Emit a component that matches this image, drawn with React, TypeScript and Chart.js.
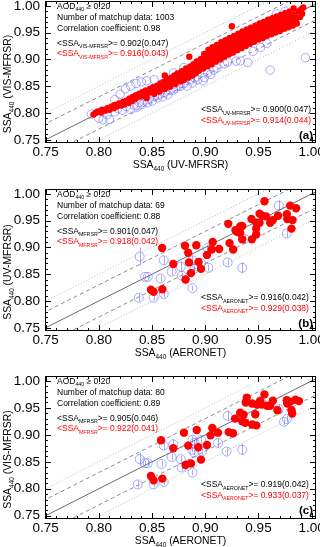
import React, { useEffect, useRef } from "react";
import { Chart, registerables } from "chart.js";
Chart.register(...registerables);

const FONT = "'Liberation Sans', Arial, Helvetica, sans-serif";
const X_MIN = 0.7495, X_MAX = 1.004, Y_MIN = 0.744, Y_MAX = 1.009;
const tickValues = [0.75, 0.8, 0.85, 0.9, 0.95, 1.0];
const refOffsets = [0.05, -0.05, 0.03, -0.03, 0];

// Panel (a): UV-MFRSR (x) vs VIS-MFRSR (y)
const redA: number[][] = [
  [0.795,0.797],[0.797,0.800],[0.799,0.803],[0.802,0.801],[0.803,0.806],[0.806,0.804],[0.808,0.809],[0.810,0.806],[0.812,0.812],[0.814,0.809],
  [0.815,0.815],[0.817,0.812],[0.819,0.818],[0.821,0.814],[0.823,0.821],[0.824,0.816],[0.826,0.823],[0.828,0.819],[0.829,0.827],[0.831,0.822],
  [0.832,0.830],[0.834,0.826],[0.835,0.833],[0.836,0.829],[0.838,0.836],[0.840,0.831],[0.841,0.839],[0.843,0.834],[0.844,0.842],[0.845,0.828],
  [0.846,0.837],[0.848,0.845],[0.849,0.840],[0.851,0.848],[0.852,0.836],[0.853,0.843],[0.855,0.851],[0.856,0.846],[0.857,0.840],[0.858,0.855],
  [0.860,0.849],[0.861,0.858],[0.862,0.845],[0.863,0.852],[0.864,0.862],[0.866,0.856],[0.862,0.870],[0.867,0.849],[0.868,0.866],[0.869,0.859],
  [0.871,0.870],[0.872,0.854],[0.873,0.863],[0.874,0.874],[0.876,0.866],[0.877,0.859],[0.878,0.878],[0.879,0.870],[0.880,0.862],[0.882,0.883],
  [0.883,0.874],[0.884,0.866],[0.885,0.905],[0.886,0.887],[0.887,0.878],[0.888,0.870],[0.889,0.891],[0.890,0.882],[0.891,0.874],[0.892,0.896],
  [0.893,0.887],[0.894,0.879],[0.896,0.901],[0.897,0.892],[0.898,0.883],[0.899,0.910],[0.900,0.905],[0.901,0.896],[0.902,0.887],[0.903,0.918],
  [0.904,0.910],[0.905,0.900],[0.906,0.891],[0.907,0.923],[0.908,0.914],[0.909,0.904],[0.910,0.896],[0.911,0.927],[0.912,0.918],[0.913,0.909],
  [0.914,0.900],[0.915,0.932],[0.916,0.923],[0.917,0.913],[0.918,0.905],[0.919,0.936],[0.920,0.927],[0.921,0.917],[0.922,0.909],[0.923,0.940],
  [0.924,0.931],[0.925,0.922],[0.925,0.962],[0.926,0.913],[0.927,0.944],[0.928,0.935],[0.929,0.926],[0.930,0.917],[0.931,0.948],[0.932,0.939],
  [0.933,0.930],[0.934,0.921],[0.935,0.952],[0.936,0.943],[0.937,0.934],[0.938,0.925],[0.939,0.956],[0.940,0.947],[0.941,0.938],[0.942,0.929],
  [0.943,0.959],[0.944,0.951],[0.945,0.942],[0.946,0.933],[0.947,0.963],[0.948,0.955],[0.949,0.946],[0.950,0.937],[0.951,0.967],[0.952,0.958],
  [0.953,0.949],[0.954,0.940],[0.955,0.970],[0.956,0.962],[0.957,0.953],[0.958,0.944],[0.959,0.974],[0.960,0.965],[0.961,0.956],[0.962,0.947],
  [0.963,0.977],[0.964,0.968],[0.965,0.959],[0.966,0.950],[0.967,0.980],[0.968,0.971],[0.969,0.962],[0.970,0.953],[0.971,0.983],[0.972,0.974],
  [0.973,0.965],[0.974,0.957],[0.975,0.986],[0.976,0.977],[0.977,0.968],[0.978,0.960],[0.979,0.989],[0.980,0.980],[0.981,0.971],[0.982,0.963],
  [0.983,0.995],[0.984,0.984],[0.985,0.975],[0.986,0.967],[0.988,0.990],[0.989,0.979],[0.990,0.993],[0.991,0.985],[0.992,0.997]
];
const blueA: number[][] = [
  [0.793,0.798],[0.800,0.790],[0.804,0.787],[0.810,0.788],[0.808,0.797],[0.815,0.802],[0.818,0.808],[0.822,0.805],[0.826,0.812],[0.830,0.806],
  [0.833,0.815],[0.836,0.811],[0.838,0.820],[0.841,0.816],[0.843,0.824],[0.846,0.819],[0.848,0.828],[0.850,0.822],[0.852,0.832],[0.855,0.828],
  [0.857,0.835],[0.860,0.830],[0.862,0.838],[0.865,0.834],[0.867,0.842],[0.870,0.843],[0.872,0.846],[0.875,0.850],[0.877,0.850],[0.880,0.855],
  [0.883,0.850],[0.886,0.862],[0.888,0.856],[0.890,0.865],[0.893,0.862],[0.898,0.860],[0.899,0.866],[0.902,0.875],[0.905,0.872],[0.908,0.880],
  [0.911,0.884],[0.914,0.903],[0.918,0.892],[0.921,0.895],[0.925,0.915],[0.929,0.897],[0.933,0.897],[0.940,0.894],[0.961,0.880],[0.994,0.903],
  [0.945,0.915],[0.952,0.922],[0.958,0.930],[0.967,0.985],[0.975,0.990],[0.835,0.855],[0.840,0.858],[0.845,0.860],[0.830,0.850],[0.852,0.862],
  [0.825,0.845],[0.820,0.835],[0.870,0.875],[0.880,0.885],[0.895,0.895],[0.910,0.915],[0.860,0.855],[0.815,0.825]
];

// Panel (b): AERONET (x) vs UV-MFRSR (y)
const redB: number[][] = [
  [0.9556,0.986],[0.9797,0.978],[0.9853,0.973],[0.951,0.963],[0.9534,0.959],[0.957,0.958],[0.9434,0.953],[0.948,0.946],[0.951,0.946],[0.961,0.946],
  [0.9635,0.951],[0.9684,0.959],[0.9766,0.962],[0.977,0.953],[0.982,0.951],[0.981,0.935],[0.9216,0.944],[0.9284,0.932],[0.9297,0.929],[0.9328,0.939],
  [0.9347,0.940],[0.9328,0.927],[0.9347,0.915],[0.9438,0.915],[0.9478,0.935],[0.9478,0.924],[0.9228,0.908],[0.9262,0.896],[0.913,0.897],[0.907,0.910],
  [0.906,0.896],[0.9016,0.886],[0.8916,0.904],[0.881,0.903],[0.884,0.890],[0.8847,0.872],[0.8937,0.873],[0.896,0.860],[0.8866,0.852],[0.8815,0.840],
  [0.8595,0.899],[0.849,0.821],[0.8515,0.817],[0.8597,0.822],[0.870,0.869]
];
const blueB: number[][] = [
  [0.8384,0.883],[0.861,0.876],[0.8684,0.855],[0.877,0.864],[0.878,0.847],[0.888,0.876],[0.8897,0.860],[0.896,0.871],[0.903,0.862],[0.921,0.872],
  [0.9347,0.862],[0.937,0.916],[0.969,0.978],[0.9766,0.926],[0.846,0.845],[0.8435,0.845],[0.858,0.842],[0.888,0.824],[0.8375,0.806],[0.8515,0.806],
  [0.861,0.813],[0.8925,0.865],[0.902,0.899]
];
const blueBErr = [
  0.017,0.008,0.006,0.010,0.006,0.008,0.006,0.006,0.006,0.006,
  0.010,0.008,0.010,0.008,0.004,0.004,0.006,0.005,0.007,0.005,
  0.006,0.005,0.006
];

// Panel (c): AERONET (x) vs VIS-MFRSR (y)
const redC: number[][] = [
  [0.9556,0.975],[0.939,0.969],[0.938,0.960],[0.944,0.958],[0.9485,0.956],[0.9516,0.9625],[0.953,0.956],[0.958,0.954],[0.961,0.954],[0.9635,0.963],
  [0.9766,0.964],[0.9797,0.961],[0.9847,0.965],[0.988,0.9625],[0.977,0.958],[0.9678,0.9456],[0.981,0.9456],[0.9816,0.9394],[0.9328,0.941],[0.936,0.9375],
  [0.9347,0.925],[0.9375,0.9225],[0.947,0.938],[0.928,0.930],[0.944,0.919],[0.948,0.9175],[0.922,0.905],[0.926,0.903],[0.912,0.904],[0.9066,0.9126],
  [0.905,0.899],[0.9016,0.881],[0.892,0.909],[0.8934,0.877],[0.880,0.904],[0.884,0.880],[0.896,0.854],[0.8866,0.847],[0.8815,0.844],[0.870,0.875],
  [0.8585,0.890],[0.849,0.8237],[0.8515,0.8156],[0.8597,0.8188]
];
const blueC: number[][] = [
  [0.8384,0.855],[0.846,0.8475],[0.8435,0.8475],[0.861,0.880],[0.8684,0.8587],[0.870,0.8825],[0.877,0.855],[0.878,0.8394],[0.888,0.8906],[0.8897,0.885],
  [0.896,0.8906],[0.8875,0.8725],[0.8897,0.867],[0.897,0.869],[0.912,0.885],[0.920,0.869],[0.921,0.935],[0.9347,0.8725],[0.9366,0.927],[0.969,0.9475],
  [0.974,0.924],[0.9766,0.929],[0.888,0.830],[0.8365,0.808],[0.8515,0.808],[0.861,0.8124],[0.859,0.846],[0.952,0.963]
];
const blueCErr = [
  0.012,0.005,0.004,0.008,0.006,0.008,0.006,0.006,0.006,0.006,
  0.006,0.005,0.005,0.006,0.008,0.006,0.010,0.010,0.008,0.008,
  0.006,0.006,0.005,0.006,0.005,0.005,0.005,0.008
];

type Seg = { t: string; sub?: boolean };
type Line = { segs: Seg[]; color: string };

const K = "#000000";
const R = "#ff0000";
const ssaLine = (inst: string, rest: string, color: string): Line => ({
  segs: [{ t: "<SSA" }, { t: inst, sub: true }, { t: rest }], color,
});
const headLines = (n: string, r: string): Line[] => [
  { segs: [{ t: "AOD" }, { t: "440", sub: true }, { t: " \u2265 0.20" }], color: K },
  { segs: [{ t: "Number of matchup data: " + n }], color: K },
  { segs: [{ t: "Correlation coefficient: " + r }], color: K },
];

const panels = [
  {
    top: 0, height: 183, frameTop: 1, frameBottom: 143, label: "(a)",
    red: redA, blue: blueA, blueErr: null as number[] | null, redR: 3.2, blueR: 4.2,
    xTitle: " (UV-MFRSR)", yTitle: " (VIS-MFRSR)",
    left: [...headLines("1003", "0.98"), ssaLine("VIS-MFRSR", ">= 0.902(0.047)", K), ssaLine("VIS-MFRSR", ">= 0.916(0.043)", R)],
    right: [ssaLine("UV-MFRSR", ">= 0.900(0.047)", K), ssaLine("UV-MFRSR", ">= 0.914(0.044)", R)],
  },
  {
    top: 183, height: 187, frameTop: 6, frameBottom: 148, label: "(b)",
    red: redB, blue: blueB, blueErr: blueBErr, redR: 4.2, blueR: 4.5,
    xTitle: " (AERONET)", yTitle: " (UV-MFRSR)",
    left: [...headLines("69", "0.88"), ssaLine("MFRSR", ">= 0.901(0.047)", K), ssaLine("MFRSR", ">= 0.918(0.042)", R)],
    right: [ssaLine("AERONET", ">= 0.916(0.042)", K), ssaLine("AERONET", ">= 0.929(0.038)", R)],
  },
  {
    top: 370, height: 177, frameTop: 6, frameBottom: 149, label: "(c)",
    red: redC, blue: blueC, blueErr: blueCErr, redR: 4.2, blueR: 4.5,
    xTitle: " (AERONET)", yTitle: " (VIS-MFRSR)",
    left: [...headLines("80", "0.89"), ssaLine("MFRSR", ">= 0.905(0.046)", K), ssaLine("MFRSR", ">= 0.922(0.041)", R)],
    right: [ssaLine("AERONET", ">= 0.919(0.042)", K), ssaLine("AERONET", ">= 0.933(0.037)", R)],
  },
];

const LEFT_ROWS = [5, 16.3, 27.3, 41.5, 52.2];
const RIGHT_ROWS = [108.3, 118.7];

function drawRich(ctx: CanvasRenderingContext2D, segs: Seg[], x: number, yc: number, align: string, size: number, color: string, bold = false) {
  const sub = size * 0.62;
  const w = (s: Seg) => {
    ctx.font = `${bold ? "bold " : ""}${s.sub ? sub : size}px ${FONT}`;
    return ctx.measureText(s.t).width;
  };
  const total = segs.reduce((a, s) => a + w(s), 0);
  let cx = align === "left" ? x : align === "center" ? x - total / 2 : x - total;
  const base = yc + size * 0.36;
  ctx.fillStyle = color;
  ctx.textAlign = "left";
  ctx.textBaseline = "alphabetic";
  for (const s of segs) {
    const ww = w(s);
    ctx.fillText(s.t, cx, s.sub ? base + size * 0.27 : base);
    cx += ww;
  }
}

function Panel({ p }: { p: (typeof panels)[number] }) {
  const ref = useRef<HTMLCanvasElement>(null);
  useEffect(() => {
    const lineStyles: Record<string, { c: string; d: number[] }> = {
      "0": { c: "#6a6a6a", d: [] },
      "0.03": { c: "#8c8c8c", d: [4, 3] },
      "0.05": { c: "#b4b4b4", d: [1, 2] },
    };
    const refSets = refOffsets.map((o) => {
      const st = lineStyles[String(Math.abs(o))];
      return {
        data: [{ x: 0.7, y: 0.7 + o }, { x: 1.05, y: 1.05 + o }],
        showLine: true, pointRadius: 0, borderColor: st.c, borderDash: st.d, borderWidth: 1, order: 3,
      };
    });
    const blueColor = "rgba(110,110,255,0.6)";
    const framePlugin = {
      id: "frame",
      beforeDatasetsDraw(chart: any) {
        if (!p.blueErr) return;
        const { ctx, scales } = chart;
        ctx.save();
        ctx.strokeStyle = blueColor;
        ctx.lineWidth = 1;
        p.blue.forEach((pt, i) => {
          const e = p.blueErr![i];
          const x = Math.round(scales.x.getPixelForValue(pt[0])) + 0.5;
          ctx.beginPath();
          ctx.moveTo(x, scales.y.getPixelForValue(pt[1] - e));
          ctx.lineTo(x, scales.y.getPixelForValue(pt[1] + e));
          ctx.stroke();
        });
        ctx.restore();
      },
      afterDraw(chart: any) {
        const { ctx, chartArea: a, scales } = chart;
        ctx.save();
        ctx.strokeStyle = "#000";
        ctx.lineWidth = 1;
        ctx.strokeRect(a.left + 0.5, a.top + 0.5, a.right - a.left - 1, a.bottom - a.top - 1);
        ctx.beginPath();
        for (let k = 75; k <= 100; k++) {
          const v = k / 100;
          const len = k % 5 === 0 ? 6 : 3;
          const px = Math.round(scales.x.getPixelForValue(v)) + 0.5;
          if (px > a.left + 1 && px < a.right - 1) {
            ctx.moveTo(px, a.bottom); ctx.lineTo(px, a.bottom - len);
            ctx.moveTo(px, a.top); ctx.lineTo(px, a.top + len);
          }
          const py = Math.round(scales.y.getPixelForValue(v)) + 0.5;
          if (py > a.top + 1 && py < a.bottom - 1) {
            ctx.moveTo(a.left, py); ctx.lineTo(a.left + len, py);
            ctx.moveTo(a.right, py); ctx.lineTo(a.right - len, py);
          }
        }
        ctx.stroke();
        // annotations
        p.left.forEach((ln, i) => drawRich(ctx, ln.segs, 57, a.top + LEFT_ROWS[i], "left", 8.5, ln.color));
        p.right.forEach((ln, i) => drawRich(ctx, ln.segs, 201, a.top + RIGHT_ROWS[i], "left", 8.5, ln.color));
        drawRich(ctx, [{ t: p.label }], a.right - 3, a.top + 134, "right", 11.5, "#000", true);
        // axis titles
        drawRich(ctx, [{ t: "SSA" }, { t: "440", sub: true }, { t: p.xTitle }], (a.left + a.right) / 2, a.bottom + 21, "center", 10.4, "#000");
        ctx.translate(7, (a.top + a.bottom) / 2 + 12);
        ctx.rotate(-Math.PI / 2);
        drawRich(ctx, [{ t: "SSA" }, { t: "440", sub: true }, { t: p.yTitle }], 0, 0, "center", 10.4, "#000");
        ctx.restore();
      },
    };
    const chart = new Chart(ref.current!, {
      type: "scatter",
      data: {
        datasets: [
          ...refSets,
          {
            data: p.blue.map((q) => ({ x: q[0], y: q[1] })),
            pointRadius: p.blueR, pointBackgroundColor: "rgba(0,0,0,0)", pointBorderColor: blueColor, pointBorderWidth: 1, order: 2,
          },
          {
            data: p.red.map((q) => ({ x: q[0], y: q[1] })),
            pointRadius: p.redR, pointBackgroundColor: "#ff0000", pointBorderColor: "#ff0000", pointBorderWidth: 0, order: 1,
          },
        ] as any,
      },
      options: {
        responsive: false,
        animation: false,
        devicePixelRatio: 1,
        layout: { padding: { top: p.frameTop, right: 4, left: 0, bottom: 0 }, autoPadding: false } as any,
        plugins: { legend: { display: false }, tooltip: { enabled: false } },
        scales: {
          x: {
            type: "linear", min: X_MIN, max: X_MAX,
            grid: { display: false, drawTicks: false }, border: { display: false },
            ticks: { padding: 1.2, font: { family: FONT, size: 13.5 }, color: "#000", maxRotation: 0, autoSkip: false,
              callback: (v: any) => Number(v).toFixed(2) },
            afterBuildTicks: (s: any) => { s.ticks = tickValues.map((v) => ({ value: v })); },
            afterFit: (s: any) => { s.height = p.height - p.frameBottom; s.paddingLeft = 0; s.paddingRight = 0; },
          },
          y: {
            type: "linear", min: Y_MIN, max: Y_MAX,
            grid: { display: false, drawTicks: false }, border: { display: false },
            ticks: { padding: 5, font: { family: FONT, size: 13.5 }, color: "#000", autoSkip: false,
              callback: (v: any) => Number(v).toFixed(2) },
            afterBuildTicks: (s: any) => { s.ticks = tickValues.map((v) => ({ value: v })); },
            afterFit: (s: any) => { s.width = 45; s.paddingTop = 0; s.paddingBottom = 0; },
          },
        } as any,
      },
      plugins: [framePlugin],
    });
    return () => chart.destroy();
  }, []);
  return (
    <canvas ref={ref} width={320} height={p.height}
      style={{ position: "absolute", left: 0, top: p.top, width: 320, height: p.height, display: "block" }} />
  );
}

export default function App() {
  return (
    <div style={{ position: "absolute", left: 0, top: 0, width: 320, height: 547, background: "#fff", overflow: "hidden" }}>
      {panels.map((p, i) => <Panel key={i} p={p} />)}
    </div>
  );
}
